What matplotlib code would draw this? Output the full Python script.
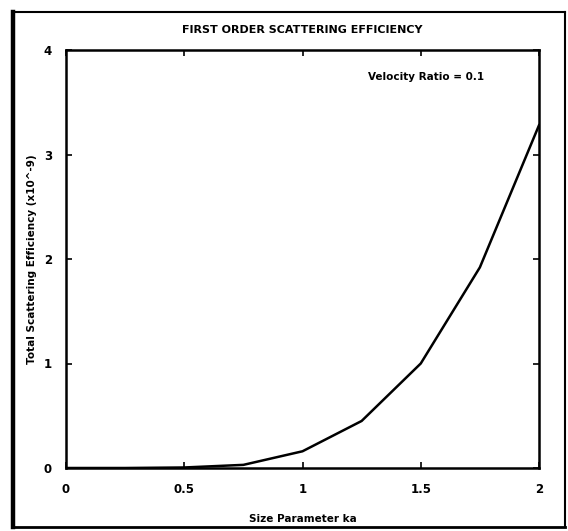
import matplotlib
matplotlib.use("Agg")
import matplotlib.pyplot as plt
from matplotlib.lines import Line2D

# data
ka = [0.0, 0.25, 0.5, 0.75, 1.0, 1.25, 1.5, 1.75, 2.0]
efficiency = [0.0, 0.0, 0.005, 0.03, 0.16, 0.45, 1.0, 1.92, 3.28]
xticks = [0, 0.5, 1, 1.5, 2]
xticklabels = ["0", "0.5", "1", "1.5", "2"]
yticks = [0, 1, 2, 3, 4]

plt.rcParams['font.family'] = ['DejaVu Sans']
plt.rcParams['font.weight'] = 'bold'

fig = plt.figure(figsize=(5.68, 5.31), dpi=100)
ax = fig.add_axes([66/568, 63/531, 473/568, 418/531])

ax.plot(ka, efficiency, color='black', lw=1.8, solid_joinstyle='miter')
ax.set_xlim(0, 2)
ax.set_ylim(0, 4)
ax.set_xticks(xticks)
ax.set_xticklabels(xticklabels)
ax.set_yticks(yticks)
ax.tick_params(direction='in', length=4, width=1.2, top=True, right=True,
               labelsize=8.5)
ax.tick_params(axis='x', pad=11)
ax.tick_params(axis='y', pad=10)
for s in ax.spines.values():
    s.set_linewidth(1.8)

ax.set_title("FIRST ORDER SCATTERING EFFICIENCY", fontsize=8,
             fontweight='bold', pad=12)
ax.set_xlabel("Size Parameter ka", fontsize=7.5, fontweight='bold', labelpad=13)
ax.set_ylabel("Total Scattering Efficiency (x10^-9)", fontsize=7.5,
              fontweight='bold', labelpad=5)
ax.text(0.885, 0.935, "Velocity Ratio = 0.1", transform=ax.transAxes,
        ha='right', va='center', fontsize=7.5, fontweight='bold')

# outer frame of the scanned page
x0, x1 = 13/568, 565/568
y0, y1 = 4/531, 519/531
fig.add_artist(Line2D([x0, x0], [y0, y1], color='black', lw=3.2))
fig.add_artist(Line2D([x0, x1], [y1, y1], color='black', lw=1.5))
fig.add_artist(Line2D([x1, x1], [y0, y1], color='black', lw=1.5))
fig.add_artist(Line2D([x0, x1], [y0, y0], color='black', lw=2.0))

fig.savefig("out.png", dpi=100)
